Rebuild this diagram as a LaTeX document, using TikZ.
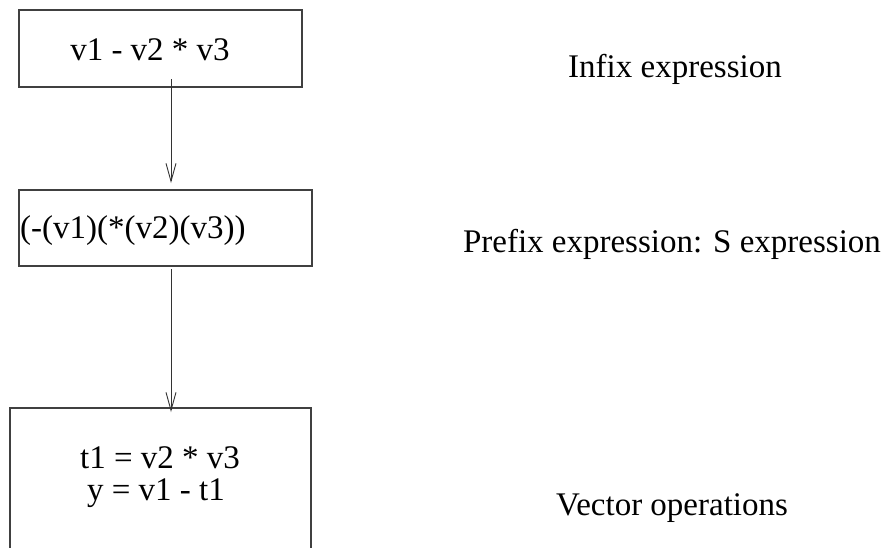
\documentclass[tikz,border=0pt]{standalone}
\usepackage{fontspec}
\setmainfont{Liberation Serif}
\usetikzlibrary{arrows.meta}
\begin{document}
\begin{tikzpicture}[x=1pt,y=-1pt,
  frame/.style={draw=black!75, line width=1.1pt, inner sep=0pt},
  txt/.style={font=\fontsize{33}{40}\selectfont, inner sep=0pt, anchor=base},
  flow/.style={draw=black!80, line width=0.9pt,
    -{Straight Barb[length=18pt,width=10pt,line width=0.9pt]}}]
  % page area
  \clip (0,0) rectangle (889,547);
  \fill[white] (0,0) rectangle (889,547);

  % stage boxes
  \node[frame, minimum width=283pt, minimum height=77pt] (infix) at (160.5,48.5) {};
  \node[frame, minimum width=293pt, minimum height=76pt] (prefix) at (165.5,228) {};
  \node[frame, minimum width=301pt, minimum height=192pt] (vecops) at (160.5,504) {};

  % box contents
  \node[txt] (infixtxt) at (150,60) {v1 - v2 * v3};
  \node[txt, anchor=base west] (prefixtxt) at (20,238) {(-(v1)(*(v2)(v3))};
  \node[txt] (vecline1) at (160,468) {t1 = v2 * v3};
  \node[txt] (vecline2) at (156,500) {y = v1 - t1};

  % stage descriptions
  \node[txt] (infixlbl) at (675,77) {Infix expression};
  \node[txt] (prefixlbl) at (672,252) {Prefix expression: S expression};
  \node[txt] (veclbl) at (672,515) {Vector operations};

  % translation steps
  \coordinate (s1a) at (171,79);
  \coordinate (s1b) at (171,183);
  \coordinate (s2a) at (171,269);
  \coordinate (s2b) at (171,412);
  \draw[flow] (s1a) -- (s1b);
  \draw[flow] (s2a) -- (s2b);
\end{tikzpicture}
\end{document}
